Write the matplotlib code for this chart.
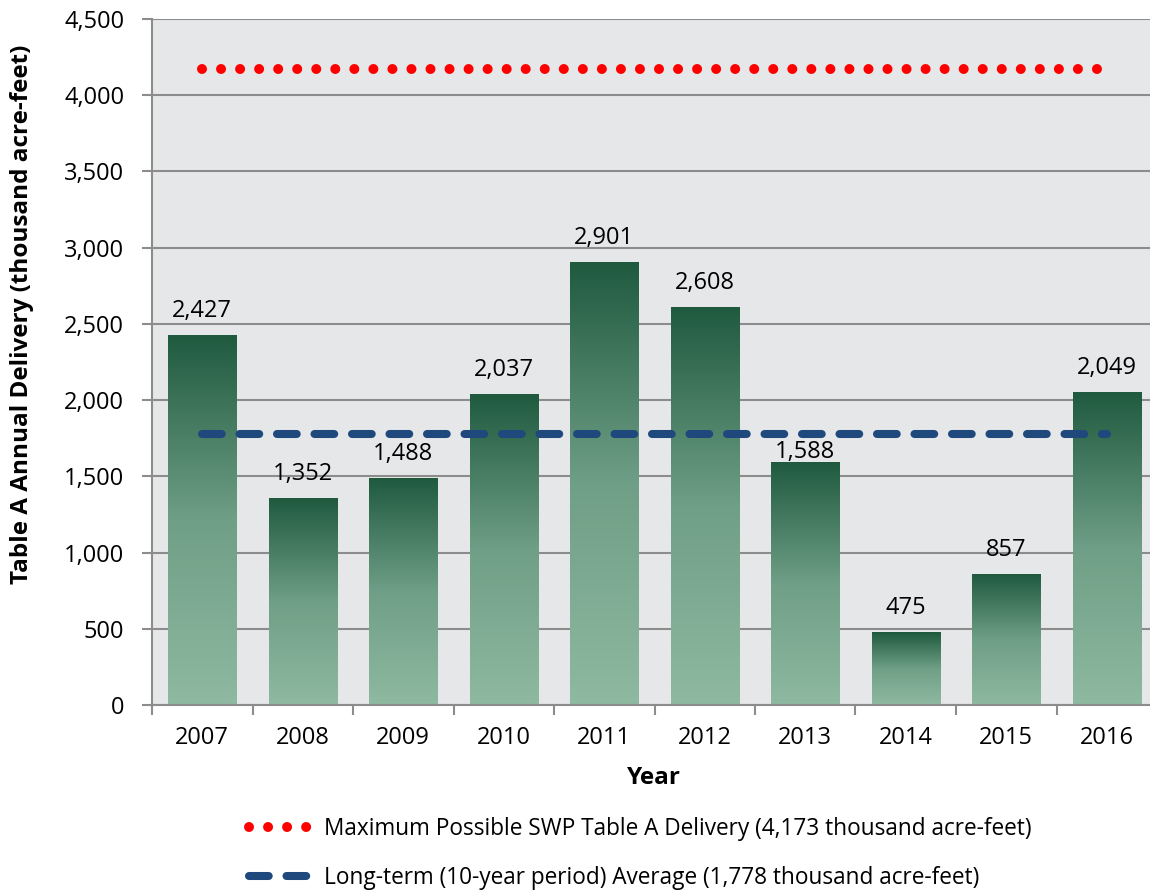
import numpy as np
import matplotlib
matplotlib.use('Agg')
import matplotlib.pyplot as plt
from matplotlib.colors import LinearSegmentedColormap
from matplotlib.lines import Line2D

years = ['2007', '2008', '2009', '2010', '2011', '2012', '2013', '2014', '2015', '2016']
delivery = [2427, 1352, 1488, 2037, 2901, 2608, 1588, 475, 857, 2049]
max_possible = 4173
long_term_avg = 1778
max_label = 'Maximum Possible SWP Table A Delivery (4,173 thousand acre-feet)'
avg_label = 'Long-term (10-year period) Average (1,778 thousand acre-feet)'

plt.rcParams['font.family'] = ['Open Sans', 'DejaVu Sans']
plt.rcParams['lines.scale_dashes'] = False

fig = plt.figure(figsize=(11.5, 8.92), dpi=100)
# axes runs a little past the right edge, like the original
ax = fig.add_axes([152/1150, 1-705/892, (1157-152)/1150, (705-19)/892])
ax.set_facecolor('#e6e7e9')

x = np.arange(len(years))
bw = 0.68
grad = LinearSegmentedColormap.from_list('g', ['#8fb9a1', '#6f9f86', '#1f5a3f'])
bars = ax.bar(x, delivery, width=bw, color='none', zorder=2)
g = np.linspace(0, 1, 256).reshape(-1, 1)
for b in bars:
    x0 = b.get_x()
    h = b.get_height()
    ax.imshow(g, cmap=grad, aspect='auto', origin='lower',
              extent=(x0, x0 + bw, 0, h), zorder=2)

# label offsets (pt); the 2013 label sits lower, under the average line
lab_off = [9, 9, 9, 9, 9, 9, -1, 9, 9, 9]
for xi, v, off in zip(x, delivery, lab_off):
    ax.annotate(f'{v:,}', (xi, v), xytext=(0, off), textcoords='offset points',
                ha='center', va='bottom', fontsize=17, color='black', zorder=4)

ax.plot([x[0], x[-1]], [max_possible]*2, color='#ff0000', lw=7.2,
        dashes=(0.01, 13.7), dash_capstyle='round', zorder=3)
ax.plot([x[0], x[-1]], [long_term_avg]*2, color='#1f497d', lw=5.8,
        dashes=(14.2, 12.8), dash_capstyle='round', zorder=3)

ax.set_xlim(-0.5, 9.5)
ax.set_ylim(0, 4500)
ax.set_yticks(np.arange(0, 4501, 500))
ax.set_yticklabels([f'{t:,}' for t in range(0, 4501, 500)])
ax.yaxis.grid(True, color='#8c8c8c', lw=1.5, zorder=1)
ax.set_axisbelow(True)

ax.set_xticks(x)
ax.set_xticklabels(years)
ax.set_xticks(np.arange(-0.5, 10, 1), minor=True)
ax.tick_params(axis='x', which='major', length=0, pad=15, labelsize=17)
ax.tick_params(axis='x', which='minor', length=7, width=1.5, color='#8c8c8c', direction='out')
ax.tick_params(axis='y', length=7, width=1.5, color='#8c8c8c', pad=13, labelsize=17)

for s in ['top', 'right']:
    ax.spines[s].set_visible(False)
for s in ['left', 'bottom']:
    ax.spines[s].set_color('#8c8c8c')
    ax.spines[s].set_linewidth(1.5)

fig.text(22/1150, 1-314/892, 'Table A Annual Delivery (thousand acre-feet)',
         rotation=90, ha='center', va='center', fontsize=17.5, fontweight='bold')
fig.text(654/1150, 1-778/892, 'Year', ha='center', va='center',
         fontsize=17.5, fontweight='bold')

h1 = Line2D([], [], color='#ff0000', lw=7.2, dashes=(0.01, 13.7), dash_capstyle='round')
h2 = Line2D([], [], color='#1f497d', lw=5.8, dashes=(14.2, 12.8), dash_capstyle='round')
fig.legend([h1, h2], [max_label, avg_label], loc='upper left',
           bbox_to_anchor=(229/1150, 1-797/892), frameon=False, fontsize=16.3,
           handlelength=2.95, handletextpad=0.35, labelspacing=1.1)

fig.savefig('out.png', dpi=100)
